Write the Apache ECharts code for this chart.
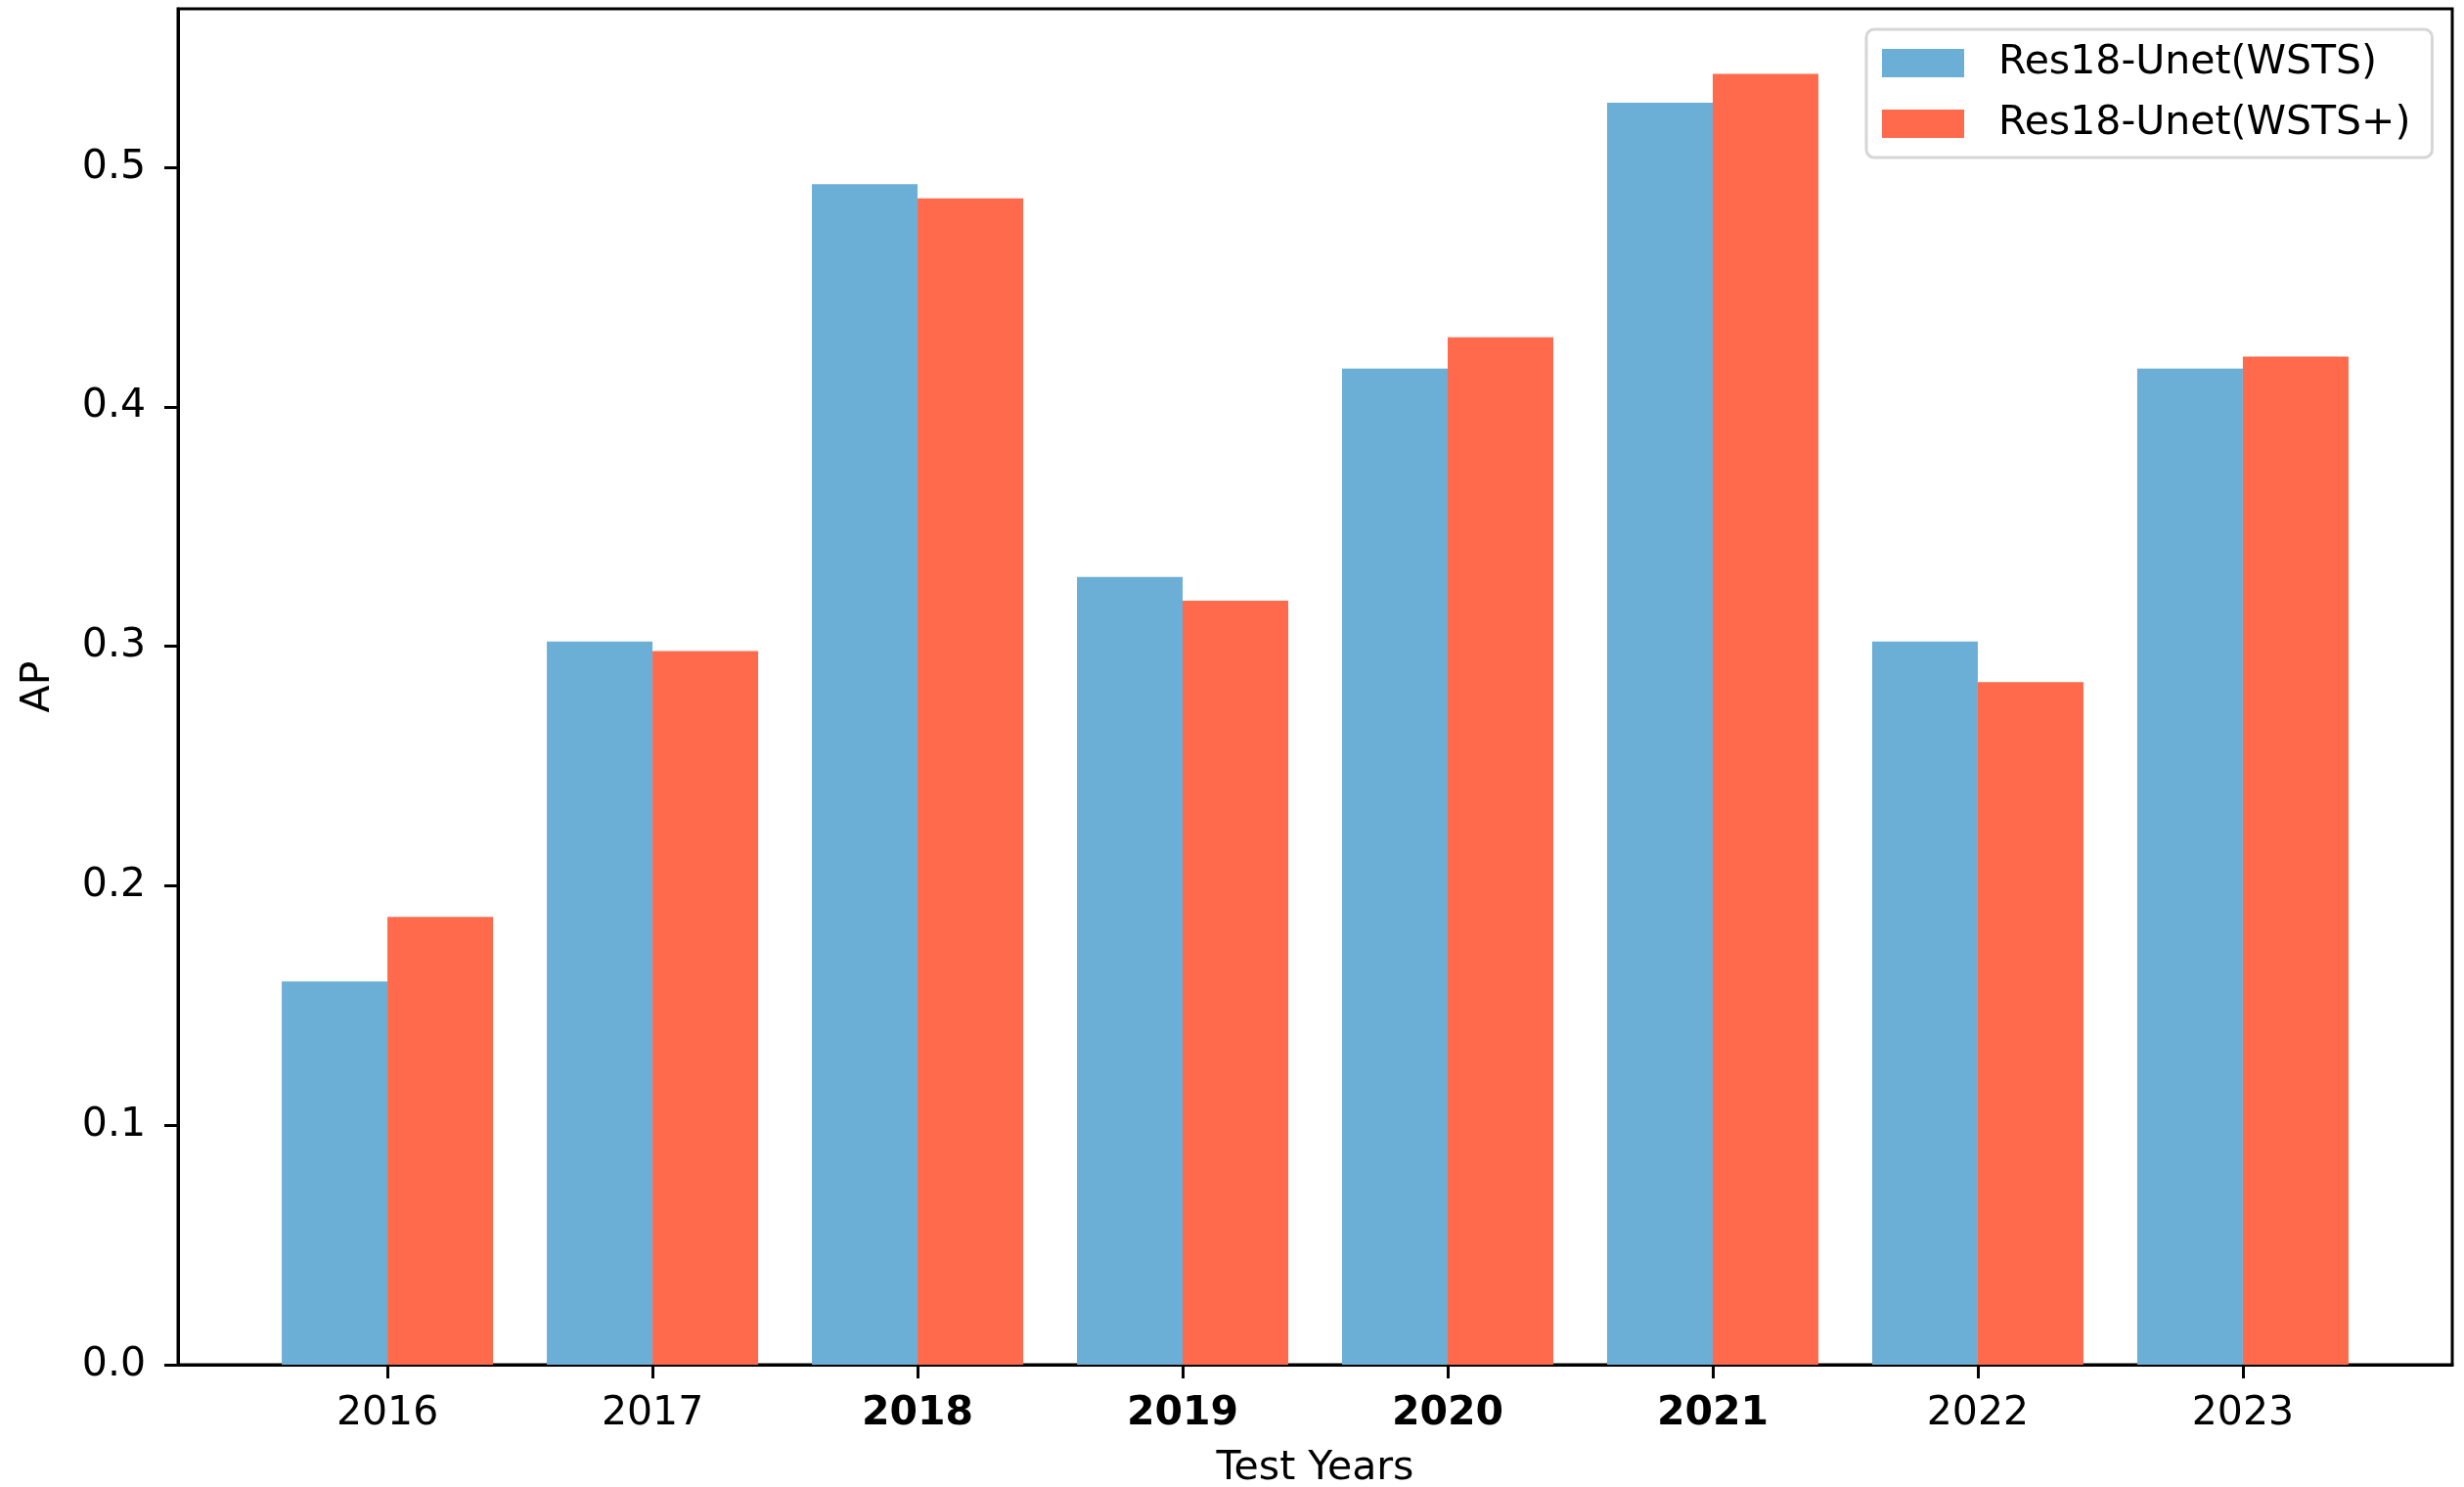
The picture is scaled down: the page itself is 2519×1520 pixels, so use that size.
<!DOCTYPE html>
<html>
<head>
<meta charset="utf-8">
<script src="https://cdn.jsdelivr.net/npm/echarts@6/dist/echarts.min.js"></script>
<style>
html,body{margin:0;padding:0;background:#fff;}
#chart{width:2519px;height:1520px;}
</style>
</head>
<body>
<div id="chart"></div>
<script>
const years = ['2016','2017','2018','2019','2020','2021','2022','2023'];
const boldYears = ['2018','2019','2020','2021'];
const wsts = [0.160, 0.302, 0.493, 0.329, 0.416, 0.527, 0.302, 0.416];
const wstsPlus = [0.187, 0.298, 0.487, 0.319, 0.429, 0.539, 0.285, 0.421];
const yTicks = [0, 0.1, 0.2, 0.3, 0.4, 0.5];
const seriesNames = ['Res18-Unet(WSTS)', 'Res18-Unet(WSTS+)'];

const FONT = 'DejaVu Sans';
const chart = echarts.init(document.getElementById('chart'), null, {renderer: 'canvas'});
const xIdx = years.map((_, i) => i);

chart.setOption({
  animation: false,
  backgroundColor: '#ffffff',
  textStyle: {fontFamily: FONT},
  grid: {left: 182, right: 12, top: 9, bottom: 125, outerBoundsMode: 'none', containLabel: false, show: true, borderColor: '#000', borderWidth: 3, backgroundColor: 'transparent'},
  legend: {
    data: seriesNames,
    orient: 'vertical',
    left: 1908, top: 30,
    padding: [14, 22, 14, 16],
    itemWidth: 84, itemHeight: 29, itemGap: 21,
    icon: 'rect',
    backgroundColor: '#fff',
    borderColor: '#d6d6d6', borderWidth: 3, borderRadius: 8,
    textStyle: {fontFamily: FONT, fontSize: 41, color: '#000', lineHeight: 29, padding: [0, 0, 0, 30]}
  },
  xAxis: {
    type: 'value',
    min: -0.79, max: 7.79,
    name: 'Test Years', nameLocation: 'middle', nameGap: 86,
    nameTextStyle: {fontFamily: FONT, fontSize: 41, color: '#000'},
    axisLine: {show: true, onZero: false, lineStyle: {color: '#000', width: 3}},
    axisTick: {show: true, customValues: xIdx, length: 14, lineStyle: {color: '#000', width: 3}},
    axisLabel: {
      customValues: xIdx, margin: 30,
      fontFamily: FONT, fontSize: 41, color: '#000',
      formatter: v => {
        const y = years[Math.round(v)];
        return boldYears.includes(y) ? '{b|' + y + '}' : '{n|' + y + '}';
      },
      rich: {
        b: {fontFamily: FONT, fontSize: 41, fontWeight: 'bold', color: '#000'},
        n: {fontFamily: FONT, fontSize: 41, color: '#000'}
      }
    },
    splitLine: {show: false}
  },
  yAxis: {
    type: 'value',
    min: 0, max: 0.5662,
    name: 'AP', nameLocation: 'middle', nameGap: 122, nameRotate: 90,
    nameTextStyle: {fontFamily: FONT, fontSize: 41, color: '#000'},
    axisLine: {show: true, onZero: false, lineStyle: {color: '#000', width: 3}},
    axisTick: {show: true, customValues: yTicks, length: 14, lineStyle: {color: '#000', width: 3}},
    axisLabel: {customValues: yTicks, margin: 33, fontFamily: FONT, fontSize: 41, color: '#000', formatter: v => v.toFixed(1)},
    splitLine: {show: false}
  },
  series: [
    {name: seriesNames[0], type: 'bar', barWidth: 108, barGap: '0%', itemStyle: {color: '#6BAED6'}, data: wsts.map((v, i) => [i, v])},
    {name: seriesNames[1], type: 'bar', barWidth: 108, barGap: '0%', itemStyle: {color: '#FE6A4B'}, data: wstsPlus.map((v, i) => [i, v])}
  ]
});
</script>
</body>
</html>
